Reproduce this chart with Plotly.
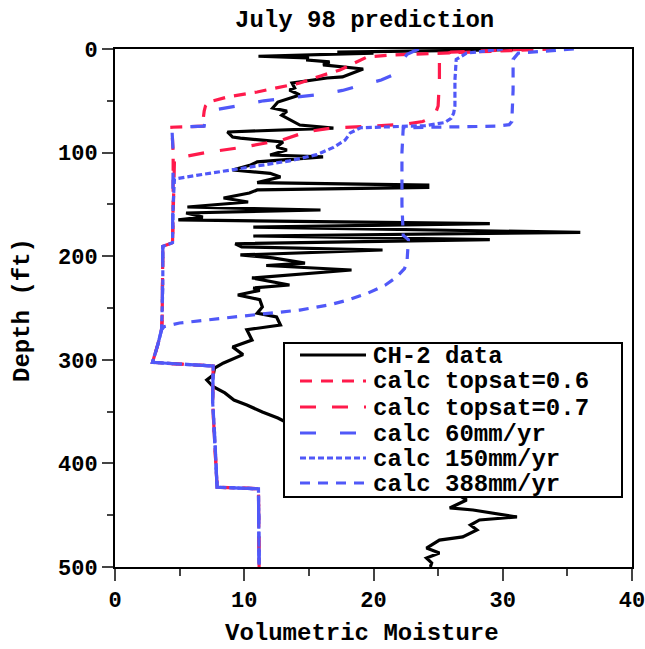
import plotly.graph_objects as go

# ---------------- data ----------------
ch2_moist = [31.5, 25.0, 17.2, 20.0, 11.1, 14.9, 14.9, 16.6, 16.1, 19.2, 17.6, 16.4, 13.7, 13.9, 13.5, 14.3,
             12.6, 12.2, 13.3, 12.9, 14.3, 16.9, 8.7, 9.1, 9.7, 13.0, 12.5, 13.3, 12.0, 16.1, 11.0,
             10.5, 9.1, 12.0, 12.8, 11.0, 24.2, 24.2, 11.0, 10.4, 8.4, 10.3, 5.6, 15.9, 5.5, 6.8,
             4.9, 29.0, 10.7, 36.0, 10.7, 29.0, 9.3, 9.8, 20.7, 9.7, 12.2, 14.7, 11.7, 18.3, 10.6,
             13.5, 10.7, 11.2, 9.5, 11.2, 11.4, 11.0, 12.5, 12.8, 10.2, 10.6, 9.1, 9.9, 8.4, 7.7,
             7.6, 7.1, 7.6, 8.5, 9.2, 10.2, 11.4, 12.6, 13.2, 16.0, 20.0, 23.5, 25.5, 26.5, 27.2,
             25.9, 27.7, 31.1, 28.2, 27.5, 28.0, 26.9, 25.1, 24.1, 25.1, 24.1, 24.5, 24.4]
ch2_depth = [0.5, 1.5, 3.0, 4.0, 7.0, 8.5, 10.6, 12.5, 15.4, 19.3, 27.0, 28.0, 32.8, 37.6, 39.6, 44.4,
             51.2, 57.0, 60.0, 64.0, 73.4, 76.3, 80.1, 85.0, 86.0, 89.8, 94.6, 97.5, 102.3, 104.2, 109.0,
             112.0, 116.8, 120.0, 123.6, 129.0, 131.3, 133.5, 136.0, 139.0, 143.8, 147.7, 152.5, 155.4, 158.3, 162.2,
             165.0, 168.5, 172.0, 177.0, 180.5, 184.0, 188.0, 191.0, 194.0, 198.8, 201.7, 206.6, 209.0, 213.3, 221.0,
             227.8, 230.7, 233.0, 237.5, 242.0, 249.0, 255.0, 258.7, 266.4, 271.0, 281.0, 287.6, 295.0, 303.0, 308.0,
             314.7, 319.5, 326.0, 332.0, 338.8, 343.6, 350.4, 356.2, 360.0, 370.0, 385.0, 405.0, 420.0, 430.0, 435.3,
             443.0, 445.0, 451.7, 454.6, 459.5, 464.3, 471.0, 474.0, 481.7, 486.5, 491.3, 496.0, 500.0]

# common deep profile of all model runs
base_depth = [75.5, 100, 150, 187, 190.5, 230, 260, 271, 286, 302.5, 306, 340, 370, 400, 423, 424.5, 500]
base_moist = [4.4, 4.5, 4.5, 4.45, 3.7, 3.7, 3.65, 3.6, 3.3, 2.9, 7.6, 7.55, 7.7, 7.8, 7.9, 11.1, 11.15]

ts06_depth = [0, 3, 5.8, 7.7, 14, 20.3, 26, 32.8, 41.5, 46.3, 50, 52, 55, 60, 70, 74.5]
ts06_moist = [34.0, 28.0, 21.3, 19.5, 18.5, 17.4, 15.9, 14.3, 11.0, 8.7, 7.6, 7.2, 7.0, 6.9, 6.8, 6.8]

ts07_depth = [0, 3, 8, 30, 55, 62, 67, 70, 72.5, 74.5, 76, 80, 88, 95, 100, 104, 107]
ts07_moist = [32.0, 26.0, 25.1, 25.1, 25.0, 24.8, 24.4, 23.8, 22.5, 20.0, 16.9, 14.8, 12.9, 9.8, 7.0, 5.3, 4.6]

m60_depth = [0, 5, 10, 18, 25, 30, 35, 40, 44, 47, 50, 55, 59, 62, 66, 74.5]
m60_moist = [23.5, 22.6, 22.3, 22.0, 21.5, 20.6, 19.0, 17.6, 15.8, 13.8, 11.5, 9.4, 7.6, 7.1, 7.0, 6.9]

m150_depth = [0, 4, 10, 30, 55, 62, 67, 71, 74, 75.3, 76, 81, 88, 95, 102, 108, 114, 118, 122, 125.5]
m150_moist = [30.0, 27.2, 26.4, 26.3, 26.3, 26.2, 26.0, 25.5, 24.0, 21.0, 19.0, 18.2, 17.8, 16.9, 15.6, 13.5,
              10.3, 8.5, 6.3, 4.6]

m388_depth = [0, 4, 10, 40, 70, 73, 74.5, 75.5, 76, 100, 150, 180, 184, 204, 212, 220, 228, 236, 242, 247,
              252, 258, 264.5, 268]
m388_moist = [35.5, 31.2, 30.8, 30.8, 30.7, 30.5, 29.5, 25.0, 22.3, 22.2, 22.2, 22.3, 22.7, 22.6, 22.4, 21.8,
              20.9, 19.5, 18.1, 16.6, 14.3, 9.7, 5.0, 3.8]

labels = ["CH-2 data", "calc topsat=0.6", "calc topsat=0.7", "calc 60mm/yr", "calc 150mm/yr", "calc 388mm/yr"]

# ---------------- styling ----------------
RED = "#FF1A4B"
BLUE = "#5058F8"
styles = [
    dict(color="black", width=3.2, dash="solid"),
    dict(color=RED, width=3.2, dash="12px,9px"),
    dict(color=RED, width=3.2, dash="16px,16px"),
    dict(color=BLUE, width=3.2, dash="16px,24px"),
    dict(color=BLUE, width=3.2, dash="6px,3px"),
    dict(color=BLUE, width=3.2, dash="10px,8px"),
]
FONT = dict(family="Liberation Mono", size=24, color="black", weight="bold")


def with_base(d, m):
    last = d[-1]
    dd = list(d) + [b for b in base_depth if b > last]
    mm = list(m) + [bm for b, bm in zip(base_depth, base_moist) if b > last]
    return dd, mm


series = [(ch2_depth, ch2_moist)]
for d, m in [(ts06_depth, ts06_moist), (ts07_depth, ts07_moist), (m60_depth, m60_moist),
             (m150_depth, m150_moist), (m388_depth, m388_moist)]:
    series.append(with_base(d, m))

fig = go.Figure()
for (d, m), lab, st in zip(series, labels, styles):
    fig.add_trace(go.Scatter(x=m, y=d, mode="lines", name=lab, line=st, showlegend=False))

# plot area in pixels: x 115..632, y 49..567
L, R, T, B = 115, 632, 49, 567
W, H = R - L, B - T


def px(xp):
    return (xp - L) / W


def py(yp):
    return (B - yp) / H


shapes = [dict(type="rect", xref="paper", yref="paper", x0=px(284), x1=px(622), y0=py(497), y1=py(343),
               line=dict(color="black", width=2), fillcolor="white", layer="above")]
annotations = []
row_y = [356, 382, 408, 434, 459, 484]
for lab, st, ry in zip(labels, styles, row_y):
    shapes.append(dict(type="line", xref="paper", yref="paper", x0=px(300), x1=px(366), y0=py(ry - 1),
                       y1=py(ry - 1), line=st, layer="above"))
    annotations.append(dict(text=lab, xref="paper", yref="paper", x=px(371), y=py(ry), xanchor="left",
                            yanchor="middle", showarrow=False, font=FONT))

annotations.append(dict(text="July 98 prediction", xref="paper", yref="paper", x=px(364), y=py(20),
                        xanchor="center", yanchor="middle", showarrow=False, font=FONT))
annotations.append(dict(text="Volumetric Moisture", xref="paper", yref="paper", x=px(362), y=py(633),
                        xanchor="center", yanchor="middle", showarrow=False, font=FONT))
annotations.append(dict(text="Depth (ft)", xref="paper", yref="paper", x=px(22), y=py(310),
                        xanchor="center", yanchor="middle", showarrow=False, textangle=-90, font=FONT))

tickfont = dict(family="Liberation Mono", size=22, color="black", weight="bold")
fig.update_layout(
    width=645, height=649,
    margin=dict(l=L, r=645 - R, t=T, b=649 - B),
    paper_bgcolor="white", plot_bgcolor="white",
    shapes=shapes, annotations=annotations,
    showlegend=False,
)
fig.update_xaxes(range=[0, 40], tickvals=[0, 10, 20, 30, 40], ticks="outside", ticklen=12, tickwidth=2,
                 minor=dict(ticks="outside", ticklen=7, tickwidth=2, dtick=5, showgrid=False),
                 showline=True, linewidth=2, linecolor="black", mirror=True, showgrid=False, zeroline=False,
                 tickfont=tickfont, ticklabeloverflow="allow", automargin=False)
fig.update_yaxes(range=[500, 0], tickvals=[0, 100, 200, 300, 400, 500], ticks="outside", ticklen=11,
                 tickwidth=2, minor=dict(ticks="outside", ticklen=6, tickwidth=2, dtick=50, showgrid=False),
                 showline=True, linewidth=2, linecolor="black", mirror=True, showgrid=False, zeroline=False,
                 tickfont=tickfont, automargin=False)

fig.write_html("out.html")
